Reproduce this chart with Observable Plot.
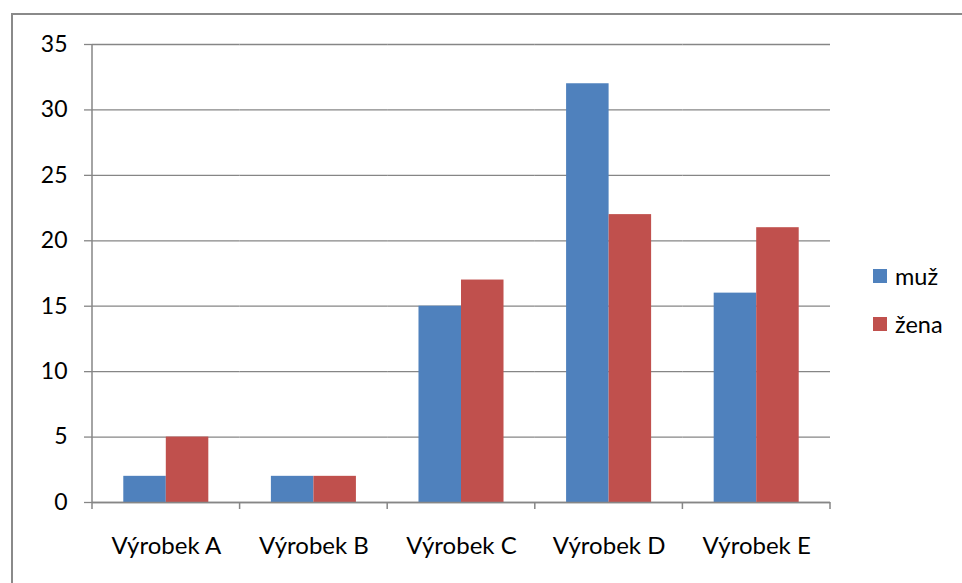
<!DOCTYPE html>
<html>
<head>
<meta charset="utf-8">
<script src="https://cdn.jsdelivr.net/npm/d3@7"></script>
<script src="https://cdn.jsdelivr.net/npm/@observablehq/plot@0.6"></script>
<style>
  html, body { margin: 0; padding: 0; background: #fff; }
  #wrap { position: relative; width: 962px; height: 583px; overflow: hidden; font-family: Lato, sans-serif; }
  #border { position: absolute; left: 11px; top: 13px; width: 1000px; height: 1000px;
            border-top: 2px solid #8a8a8a; border-left: 2px solid #8a8a8a; box-sizing: border-box; }
  #chart { position: absolute; left: 0; top: 0; }
  .leg { position: absolute; left: 873px; display: flex; align-items: center; font-size: 23.5px; color: #000; }
  .leg span.sw { display: inline-block; width: 14px; height: 14px; margin-right: 8px; }
</style>
</head>
<body>
<div id="wrap">
  <div id="border"></div>
  <div id="chart"></div>
</div>
<script>
const categories = ["Výrobek A", "Výrobek B", "Výrobek C", "Výrobek D", "Výrobek E"];
const series = ["muž", "žena"];
const muz = [2, 2, 15, 32, 16];
const zena = [5, 2, 17, 22, 21];
const colors = ["#4F81BD", "#C0504D"];
const yTicks = [0, 5, 10, 15, 20, 25, 30, 35];

const data = [];
categories.forEach((c, i) => {
  data.push({cat: c, series: series[0], value: muz[i]});
  data.push({cat: c, series: series[1], value: zena[i]});
});

const gray = "#868686";
const plot = Plot.plot({
  width: 962,
  height: 583,
  marginLeft: 92,
  marginRight: 132,
  marginTop: 44,
  marginBottom: 81,
  style: {fontFamily: "Lato, sans-serif", fontSize: "23px", color: "#000", background: "transparent", overflow: "visible"},
  fx: {domain: categories, padding: 0, label: null, round: false},
  x: {domain: series, paddingInner: 0, paddingOuter: 0.736, axis: null, round: false},
  y: {domain: [0, 35], label: null},
  color: {domain: series, range: colors},
  marks: [
    Plot.gridY(yTicks, {stroke: gray, strokeOpacity: 1, strokeWidth: 1.3}),
    Plot.axisY(yTicks, {tickSize: 8, tickPadding: 17, stroke: gray, strokeWidth: 1.3, fill: "#000", label: null}),
    Plot.barY(data, {fx: "cat", x: "series", y: "value", fill: "series"}),
    Plot.ruleY([0], {stroke: gray, strokeWidth: 1.5}),
    Plot.axisFx({anchor: "bottom", tickSize: 0, tickPadding: 34, fill: "#000", fontSize: 24, label: null})
  ]
});
document.getElementById("chart").appendChild(plot);

// axis line and category boundary ticks, positioned from the plot's scales
const fx = plot.scale("fx"), y = plot.scale("y");
const svg = d3.select(plot);
const edges = categories.map(c => fx.apply(c));
edges.push(fx.apply(categories[categories.length - 1]) + fx.bandwidth);
const g = svg.append("g").attr("stroke", gray).attr("stroke-width", 1.5);
g.append("line").attr("x1", edges[0]).attr("x2", edges[0]).attr("y1", y.apply(35)).attr("y2", y.apply(0));
g.selectAll("line.t").data(edges).join("line").attr("class", "t")
  .attr("x1", d => d).attr("x2", d => d).attr("y1", y.apply(0)).attr("y2", y.apply(0) + 7);

// legend
const wrap = document.getElementById("wrap");
const legTops = [262, 310];
series.forEach((s, i) => {
  const d = document.createElement("div");
  d.className = "leg";
  d.style.top = legTops[i] + "px";
  d.innerHTML = `<span class="sw" style="background:${colors[i]}"></span><span>${s}</span>`;
  wrap.appendChild(d);
});
</script>
</body>
</html>
